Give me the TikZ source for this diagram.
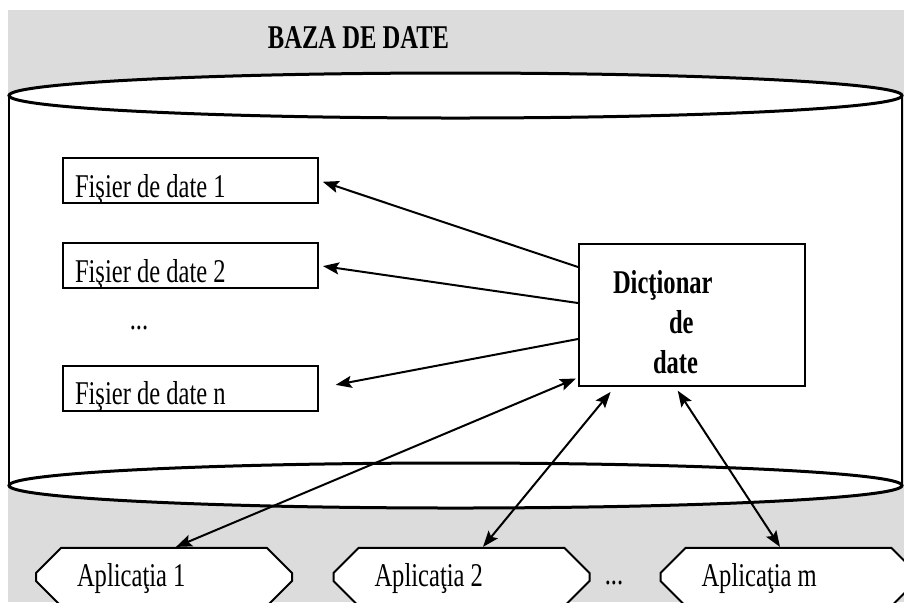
\documentclass[tikz,border=0pt]{standalone}
\usepackage{fontspec}
\setmainfont[FakeStretch=0.74]{Liberation Serif}
\usetikzlibrary{shapes.misc,arrows.meta}
\definecolor{bggray}{RGB}{220,220,220}

\begin{document}
\begin{tikzpicture}[x=0.5pt,y=-0.5pt,node distance=42.5pt]
    % Define styles
    \tikzstyle{every node} = [font=\fontsize{16.6}{20}\selectfont]
    \tikzstyle{filebox} = [rectangle, draw, line width=1pt, fill=white, minimum width=127.5pt, minimum height=22.5pt, text width=115.5pt, inner xsep=6pt, inner ysep=0pt, text height=19.5pt, text depth=3pt, align=flush left, execute at begin node={\spaceskip=0pt\xspaceskip=0pt\relax}]
    \tikzstyle{dictbox} = [rectangle, draw, line width=1pt, fill=white, minimum width=113pt, minimum height=71pt, text width=79pt, inner xsep=17pt, align=left, font=\fontsize{16.6}{20}\selectfont\bfseries]
    \tikzstyle{appbox} = [chamfered rectangle, chamfered rectangle xsep=9.5pt, draw, line width=1pt, fill=white, text width=87pt, inner xsep=11pt, inner ysep=0pt, text height=16pt, text depth=7pt, align=flush left, execute at begin node={\spaceskip=0pt\xspaceskip=0pt\relax}]
    \tikzstyle{line} = [draw, line width=1pt, -{Stealth[length=8pt,width=6pt,inset=1.5pt]}]
    \tikzstyle{dline} = [line, {Stealth[length=8pt,width=6pt,inset=1.5pt]}-{Stealth[length=8pt,width=6pt,inset=1.5pt]}]

    \useasboundingbox (0,0) rectangle (904,602);
    \clip (0,0) rectangle (904,602);

    % Background and database cylinder
    \fill[bggray] (8,10) rectangle (904,602);
    \fill[white] (9,95.5) rectangle (902,485.5);
    \filldraw[fill=white, line width=1.5pt] (455.5,485.5) ellipse [x radius=446.5, y radius=22.5];
    \draw[line width=1pt] (9,95.5) -- (9,485.5) (902,95.5) -- (902,485.5);
    \filldraw[fill=white, line width=1.5pt] (455.5,95.5) ellipse [x radius=446.5, y radius=22.5];
    \node[font=\fontsize{16.6}{20}\selectfont\bfseries] (title) at (358.5,38) {BAZA DE DATE};

    % Data files
    \node [filebox] (file1) at (190.5,180.5) {Fişier de date 1};
    \node [filebox, below of=file1] (file2) {Fişier de date 2};
    \node [below of=file2, node distance=31.25pt, xshift=-25.75pt] (fdots) {...};
    \node [filebox, below of=fdots, node distance=30pt, xshift=25.75pt] (filen) {Fişier de date n};

    % Data dictionary
    \node [dictbox] (dict) at (692,314.5) {\rule{0pt}{19.3pt}Dicţionar\\\hspace*{28pt}de\\\hspace*{20pt}date};

    % Applications
    \node [appbox] (app1) at (164,577) {Aplicaţia 1};
    \node [appbox, right of=app1, node distance=148.75pt] (app2) {Aplicaţia 2};
    \node [right of=app2, node distance=76.25pt, yshift=-3pt] (adots) {...};
    \node [appbox, right of=app2, node distance=163.5pt] (appm) {Aplicaţia m};

    % Connect components
    \path [line, shorten >=2pt] ([yshift=23.75pt]dict.west) -- (file1.east);
    \path [line, shorten >=2pt] ([yshift=5.75pt]dict.west) -- (file2.east);
    \path [line, shorten >=8.5pt] ([yshift=-12.25pt]dict.west) -- (filen.east);

    \path [dline] ([xshift=6pt]app1.north) -- ([xshift=-1pt,yshift=4pt]dict.south west);
    \path [dline, shorten >=3.5pt] ([xshift=10.75pt]app2.north) -- ([xshift=-38.5pt]dict.south);
    \path [dline, shorten >=2.5pt] ([xshift=-4.25pt]appm.north) -- ([xshift=-8.5pt]dict.south);
\end{tikzpicture}
\end{document}
